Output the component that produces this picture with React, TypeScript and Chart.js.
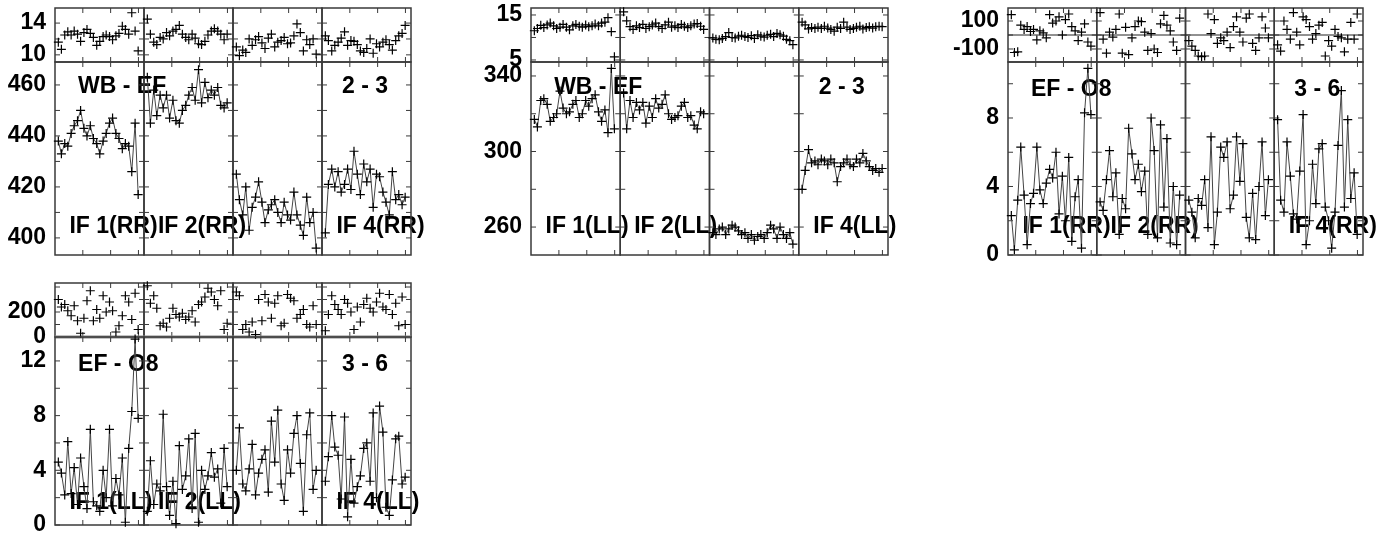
import React, { useEffect, useRef } from "react";
import { Chart, registerables } from "chart.js";

Chart.register(...registerables);

// ---------- data ----------
// sample times inside one IF window (x-units, window = 32)
const TIMES = [1.2, 2.3, 3.5, 4.6, 5.8, 6.9, 8.1, 9.2, 10.4, 11.5, 12.7, 13.8, 15.0, 16.1, 17.3, 18.4, 19.6, 20.7, 21.9, 23.0, 24.2, 25.3, 26.5, 27.6, 28.8, 29.9];
const IF_SPAN = 32;
const X_TICKS = [10, 20, 30];

// Panel A : WB - EF, RR
const AMP_A1 = [438, 433, 437, 436, 441, 444, 446, 450, 443, 440, 444, 439, 437, 433, 438, 441, 445, 447, 441, 439, 435, 437, 436, 426, 445, 417];
const AMP_A2 = [463, 445, 458, 448, 456, 451, 456, 447, 454, 446, 445, 450, 452, 456, 459, 454, 466, 453, 461, 455, 458, 456, 459, 452, 451, 453];
const AMP_A3 = [425, 415, 409, 420, 403, 412, 416, 422, 414, 406, 411, 413, 415, 410, 406, 414, 409, 407, 418, 409, 405, 401, 416, 406, 410, 396];
const AMP_A4 = [402, 421, 427, 420, 426, 418, 421, 427, 419, 434, 425, 417, 429, 422, 427, 412, 425, 424, 418, 414, 409, 426, 415, 417, 413, 416];
const PH_A1 = [11.6, 10.7, 12.5, 12.9, 12.5, 13.0, 12.6, 11.7, 12.8, 13.2, 12.7, 12.2, 11.2, 11.7, 12.3, 12.5, 12.3, 11.9, 12.4, 12.7, 13.6, 13.2, 12.6, 15.3, 13.0, 10.5];
const PH_A2 = [14.5, 12.6, 11.6, 11.3, 12.2, 12.0, 12.8, 12.4, 13.0, 13.2, 13.7, 12.6, 12.2, 11.9, 12.6, 12.1, 11.4, 11.3, 11.7, 12.5, 13.0, 13.3, 13.0, 12.6, 11.9, 12.6];
const PH_A3 = [11.0, 9.9, 10.6, 10.3, 12.0, 11.2, 11.9, 12.3, 11.5, 10.8, 12.1, 12.6, 11.0, 11.6, 11.8, 12.2, 11.4, 11.5, 12.4, 13.9, 12.8, 10.5, 11.9, 11.3, 12.0, 10.1];
const PH_A4 = [12.4, 11.8, 10.5, 11.2, 11.6, 12.1, 12.9, 11.2, 11.8, 11.7, 11.3, 10.5, 10.3, 10.8, 12.0, 10.2, 11.4, 11.0, 11.6, 11.9, 11.3, 10.6, 11.8, 12.4, 12.7, 13.7];

// Panel B : WB - EF, LL
const AMP_B1 = [317, 313, 327, 328, 325, 316, 318, 320, 332, 323, 320, 321, 325, 327, 318, 320, 327, 324, 328, 330, 321, 316, 322, 310, 344, 312];
const AMP_B2 = [331, 312, 327, 318, 326, 322, 326, 315, 324, 318, 328, 323, 325, 330, 320, 317, 318, 319, 324, 326, 318, 319, 314, 312, 321, 320];
const AMP_B3 = [257, 256, 259, 260, 256, 259, 261, 260, 258, 256, 257, 254, 256, 253, 255, 256, 254, 257, 261, 259, 254, 260, 256, 254, 257, 251];
const AMP_B4 = [280, 290, 301, 294, 295, 293, 296, 295, 293, 296, 294, 284, 292, 294, 296, 293, 292, 296, 294, 299, 295, 292, 290, 291, 289, 291];
const PH_B1 = [11.5, 12.0, 12.7, 12.2, 12.8, 13.2, 12.6, 12.0, 12.3, 12.9, 12.3, 11.7, 12.6, 12.9, 12.5, 12.3, 12.8, 12.4, 12.6, 13.0, 12.6, 13.2, 13.4, 14.4, 11.3, 5.7];
const PH_B2 = [15.7, 13.7, 12.4, 11.8, 12.6, 12.2, 12.9, 12.0, 12.4, 12.8, 13.2, 12.4, 12.0, 12.8, 13.4, 12.3, 12.6, 12.2, 12.9, 12.5, 12.2, 12.6, 13.0, 13.1, 12.5, 11.8];
const PH_B3 = [9.9, 9.6, 9.5, 9.8, 10.2, 11.1, 10.0, 9.9, 10.3, 10.5, 10.2, 10.0, 10.4, 9.8, 10.6, 10.3, 10.1, 10.5, 10.7, 10.2, 10.9, 10.6, 10.3, 9.6, 9.3, 8.4];
const PH_B4 = [13.4, 12.8, 11.9, 12.2, 12.0, 12.3, 12.0, 12.5, 12.1, 11.8, 11.4, 12.3, 12.0, 13.4, 12.3, 11.8, 12.0, 12.3, 12.5, 11.9, 12.2, 12.4, 12.1, 12.4, 12.5, 12.4];

// Panel C : EF - O8, RR
const AMP_C1 = [2.3, 0.3, 3.2, 6.3, 3.5, 0.6, 3.0, 3.6, 6.3, 3.8, 3.0, 4.2, 5.0, 4.5, 6.0, 2.4, 4.6, 2.0, 5.7, 0.8, 3.4, 4.4, 0.4, 8.3, 10.9, 8.2];
const AMP_C2 = [3.1, 2.6, 4.4, 6.1, 3.4, 4.8, 1.2, 3.3, 2.7, 7.4, 5.9, 4.4, 5.3, 3.7, 4.9, 1.2, 8.0, 6.1, 1.0, 7.6, 2.8, 6.8, 0.7, 4.0, 0.6, 3.5];
const AMP_C3 = [3.2, 2.5, 1.0, 3.3, 2.9, 4.4, 1.6, 6.9, 0.6, 2.5, 6.3, 5.7, 6.6, 2.7, 3.5, 6.9, 4.3, 6.5, 2.2, 1.0, 3.6, 0.9, 4.0, 6.6, 2.3, 4.4];
const AMP_C4 = [7.9, 3.2, 2.5, 6.6, 4.6, 2.4, 2.1, 4.9, 8.2, 0.6, 2.0, 5.3, 3.0, 6.2, 6.5, 2.8, 2.0, 0.4, 2.5, 6.4, 9.6, 2.8, 7.9, 3.3, 4.8, 1.2];
const PH_C1 = [145, -125, -120, 70, 40, 60, 25, 40, -35, 30, 15, -20, 145, 85, 100, 130, 0, 110, 150, 60, 30, -40, 20, 80, -50, -80];
const PH_C2 = [160, -30, -130, 20, -15, 40, 150, -130, 55, -140, -20, 60, 100, 95, 20, -110, 10, -100, -125, 80, 140, 70, 30, -50, -110, 120];
const PH_C3 = [-40, -80, -110, -150, -155, -150, 150, 10, 110, -60, -20, -40, 20, -90, 60, 130, 20, -50, 120, 150, -60, -110, -20, 130, 50, -20];
const PH_C4 = [-70, -115, 100, 40, -30, 160, 20, -70, 130, 110, 60, -30, 10, 70, 90, -150, -40, -80, 40, -10, -20, -120, -30, 90, -30, 150];

// Panel D : EF - O8, LL
const AMP_D1 = [4.6, 3.8, 2.2, 6.1, 2.3, 4.2, 1.5, 4.9, 2.8, 1.2, 7.0, 1.7, 1.4, 1.0, 4.0, 2.0, 7.0, 1.4, 3.4, 2.2, 4.9, 0.2, 5.6, 8.3, 13.6, 7.8];
const AMP_D2 = [1.0, 4.7, 1.5, 3.0, 2.5, 8.1, 2.8, 0.7, 3.2, 0.1, 5.8, 2.6, 3.6, 6.3, 1.2, 6.7, 0.2, 4.0, 2.6, 3.6, 5.3, 3.5, 4.1, 1.6, 5.6, 2.8];
const AMP_D3 = [4.0, 7.1, 3.0, 2.5, 4.1, 5.9, 2.2, 3.8, 4.8, 5.5, 2.4, 7.6, 4.6, 8.4, 3.0, 1.8, 5.5, 3.8, 6.7, 8.0, 4.5, 1.0, 6.6, 8.2, 2.6, 4.0];
const AMP_D4 = [3.2, 5.0, 8.0, 5.7, 5.1, 1.9, 7.9, 0.6, 4.8, 1.6, 2.8, 3.6, 5.6, 6.0, 3.2, 8.2, 2.0, 8.7, 6.8, 1.3, 0.7, 3.3, 6.3, 6.5, 3.0, 3.5];
const PH_D1 = [300, 240, 260, 210, 170, 250, 130, 30, 150, 290, 370, 130, 220, 150, 330, 200, 280, 210, 40, 90, 170, 330, 280, 140, 350, 60];
const PH_D2 = [410, 270, 330, 230, 90, 110, 80, 150, 230, 180, 160, 190, 140, 160, 210, 120, 260, 280, 320, 390, 360, 300, 250, 370, 60, 110];
const PH_D3 = [360, 330, 60, 100, 40, 120, 20, 300, 130, 340, 280, 150, 270, 330, 90, 110, 340, 310, 290, 150, 180, 220, 100, 80, 250, 100];
const PH_D4 = [50, 180, 330, 260, 220, 180, 300, 270, 200, 60, 240, 120, 260, 310, 230, 200, 280, 350, 240, 220, 340, 180, 270, 90, 320, 100];

// axis ticks / labels
const TICKS_A_PH = [10, 12, 14];
const LABELS_A_PH = [10, 14];
const TICKS_A_AMP = [400, 410, 420, 430, 440, 450, 460];
const LABELS_A_AMP = [400, 420, 440, 460];
const TICKS_B_PH = [5, 10, 15];
const LABELS_B_PH = [5, 15];
const TICKS_B_AMP = [260, 280, 300, 320, 340];
const LABELS_B_AMP = [260, 300, 340];
const TICKS_C_PH = [-100, 0, 100];
const LABELS_C_PH = [-100, 100];
const TICKS_C_AMP = [0, 2, 4, 6, 8, 10];
const LABELS_C_AMP = [0, 4, 8];
const TICKS_D_PH = [0, 100, 200, 300, 400];
const LABELS_D_PH = [0, 200];
const TICKS_D_AMP = [0, 2, 4, 6, 8, 10, 12];
const LABELS_D_AMP = [0, 4, 8, 12];

// ---------- styling / layout ----------
const FONT = '"Liberation Sans", Arial, Helvetica, sans-serif';
const FONT_SIZE = 23;
const AXW = 70;
const PADV = 30;
const PADR = 16;
const TICK_LEN = 5;
const FRAME_COLOR = "#3a3a3a";

type Txt = { text: string; x: number; dy: number; fromTop: boolean };
type SubSpec = {
  key: string;
  left: number;
  top: number;
  width: number;
  height: number;
  yMin: number;
  yMax: number;
  ticks: number[];
  labels: number[];
  series: number[][];
  showLine: boolean;
  zero?: { color: string; width: number };
  texts: Txt[];
};

function panelTexts(title: string, pair: string, pol: string, titleDy: number, ifDy: number): Txt[] {
  return [
    { text: title, x: 8.3, dy: titleDy, fromTop: true },
    { text: pair, x: 103.2, dy: titleDy, fromTop: true },
    { text: `IF 1(${pol})`, x: 5.2, dy: ifDy, fromTop: false },
    { text: `IF 2(${pol})`, x: 37.0, dy: ifDy, fromTop: false },
    { text: `IF 4(${pol})`, x: 101.2, dy: ifDy, fromTop: false },
  ];
}

const SPECS: SubSpec[] = [
  // Panel A
  { key: "a-ph", left: 55, top: 8, width: 356, height: 54, yMin: 9.1, yMax: 15.9, ticks: TICKS_A_PH, labels: LABELS_A_PH,
    series: [PH_A1, PH_A2, PH_A3, PH_A4], showLine: false, texts: [] },
  { key: "a-amp", left: 55, top: 62, width: 356, height: 193, yMin: 393.3, yMax: 469, ticks: TICKS_A_AMP, labels: LABELS_A_AMP,
    series: [AMP_A1, AMP_A2, AMP_A3, AMP_A4], showLine: true, texts: panelTexts("WB - EF", "2 - 3", "RR", 25, 28) },
  // Panel B
  { key: "b-ph", left: 531, top: 8, width: 357, height: 54, yMin: 4.55, yMax: 16.55, ticks: TICKS_B_PH, labels: LABELS_B_PH,
    series: [PH_B1, PH_B2, PH_B3, PH_B4], showLine: false, texts: [] },
  { key: "b-amp", left: 531, top: 62, width: 357, height: 193, yMin: 245.2, yMax: 347.4, ticks: TICKS_B_AMP, labels: LABELS_B_AMP,
    series: [AMP_B1, AMP_B2, AMP_B3, AMP_B4], showLine: true, texts: panelTexts("WB - EF", "2 - 3", "LL", 26, 28) },
  // Panel C
  { key: "c-ph", left: 1008, top: 8, width: 355, height: 54, yMin: -193, yMax: 193, ticks: TICKS_C_PH, labels: LABELS_C_PH,
    series: [PH_C1, PH_C2, PH_C3, PH_C4], showLine: false, zero: { color: "#222", width: 1 }, texts: [] },
  { key: "c-amp", left: 1008, top: 62, width: 355, height: 193, yMin: 0, yMax: 11.27, ticks: TICKS_C_AMP, labels: LABELS_C_AMP,
    series: [AMP_C1, AMP_C2, AMP_C3, AMP_C4], showLine: true, texts: panelTexts("EF - O8", "3 - 6", "RR", 28, 28) },
  // Panel D
  { key: "d-ph", left: 55, top: 283, width: 356, height: 54, yMin: 0, yMax: 432, ticks: TICKS_D_PH, labels: LABELS_D_PH,
    series: [PH_D1, PH_D2, PH_D3, PH_D4], showLine: false, zero: { color: "#888", width: 3 }, texts: [] },
  { key: "d-amp", left: 55, top: 337, width: 356, height: 188, yMin: 0, yMax: 13.75, ticks: TICKS_D_AMP, labels: LABELS_D_AMP,
    series: [AMP_D1, AMP_D2, AMP_D3, AMP_D4], showLine: true, texts: panelTexts("EF - O8", "3 - 6", "LL", 28, 22) },
];

const framePlugin = {
  id: "ifFrame",
  beforeDatasetsDraw(chart: any, _args: any, opts: any) {
    const { ctx, chartArea: a } = chart;
    const x = chart.scales.x;
    const y = chart.scales.y;
    const spec: SubSpec = opts.spec;
    ctx.save();
    // annotation text (under the data)
    ctx.fillStyle = "#000";
    ctx.font = `bold ${FONT_SIZE}px ${FONT}`;
    ctx.textAlign = "left";
    ctx.textBaseline = "middle";
    for (const t of spec.texts) {
      const px = x.getPixelForValue(t.x);
      const py = t.fromTop ? a.top + t.dy : a.bottom - t.dy;
      ctx.fillText(t.text, px, py);
    }
    // frames with inward ticks per IF window
    ctx.strokeStyle = FRAME_COLOR;
    ctx.lineWidth = 1.5;
    const seg = (x1: number, y1: number, x2: number, y2: number) => {
      ctx.beginPath();
      ctx.moveTo(x1, y1);
      ctx.lineTo(x2, y2);
      ctx.stroke();
    };
    for (let s = 0; s < spec.series.length; s++) {
      const l = x.getPixelForValue(s * IF_SPAN);
      const r = x.getPixelForValue((s + 1) * IF_SPAN);
      ctx.lineWidth = 1.5;
      ctx.strokeRect(l, a.top, r - l, a.bottom - a.top);
      ctx.lineWidth = 1;
      for (const v of spec.ticks) {
        const py = y.getPixelForValue(v);
        seg(l, py, l + TICK_LEN, py);
        seg(r, py, r - TICK_LEN, py);
      }
      for (const xv of X_TICKS) {
        const px = x.getPixelForValue(s * IF_SPAN + xv);
        seg(px, a.top, px, a.top + TICK_LEN);
        seg(px, a.bottom, px, a.bottom - TICK_LEN);
      }
    }
    if (spec.zero) {
      ctx.strokeStyle = spec.zero.color;
      ctx.lineWidth = spec.zero.width;
      const py = y.getPixelForValue(0);
      seg(a.left, py, a.right, py);
    }
    ctx.restore();
  },
};

function SubPlot({ spec }: { spec: SubSpec }) {
  const ref = useRef<HTMLCanvasElement | null>(null);
  const w = AXW + spec.width + PADR;
  const h = spec.height + 2 * PADV;
  useEffect(() => {
    if (!ref.current) return;
    const datasets = spec.series.map((vals, s) => ({
      data: vals.map((v, i) => ({ x: s * IF_SPAN + TIMES[i], y: v })),
      showLine: spec.showLine,
      borderColor: "#444",
      borderWidth: 1,
      pointStyle: "cross",
      pointRadius: 4.5,
      pointHoverRadius: 4.5,
      pointBorderColor: "#000",
      pointBackgroundColor: "#000",
      pointBorderWidth: 1.2,
      tension: 0,
      clip: false,
    }));
    const chart = new Chart(ref.current, {
      type: "line",
      data: { datasets } as any,
      options: {
        animation: false,
        responsive: false,
        devicePixelRatio: 1,
        events: [],
        layout: { padding: { top: PADV, bottom: PADV, left: 0, right: PADR } },
        plugins: {
          legend: { display: false },
          tooltip: { enabled: false },
          ifFrame: { spec },
        } as any,
        scales: {
          x: { type: "linear", min: 0, max: IF_SPAN * 4, display: false },
          y: {
            type: "linear",
            min: spec.yMin,
            max: spec.yMax,
            afterBuildTicks: (axis: any) => {
              axis.ticks = spec.ticks.map((v) => ({ value: v }));
            },
            afterFit: (scale: any) => {
              scale.width = AXW;
            },
            grid: { display: false, drawTicks: false },
            border: { display: false },
            ticks: {
              autoSkip: false,
              padding: 9,
              color: "#000",
              font: { family: FONT, size: FONT_SIZE, weight: "bold" },
              callback: (v: any) => (spec.labels.includes(Number(v)) ? String(v) : ""),
            },
          },
        },
      } as any,
      plugins: [framePlugin],
    });
    return () => chart.destroy();
  }, [spec]);
  return (
    <canvas
      ref={ref}
      width={w}
      height={h}
      style={{ position: "absolute", left: spec.left - AXW, top: spec.top - PADV, width: w, height: h, display: "block" }}
    />
  );
}

export default function App() {
  return (
    <div style={{ position: "absolute", left: 0, top: 0, width: 1398, height: 538, background: "#fff", overflow: "hidden" }}>
      {SPECS.map((s) => (
        <SubPlot key={s.key} spec={s} />
      ))}
    </div>
  );
}
